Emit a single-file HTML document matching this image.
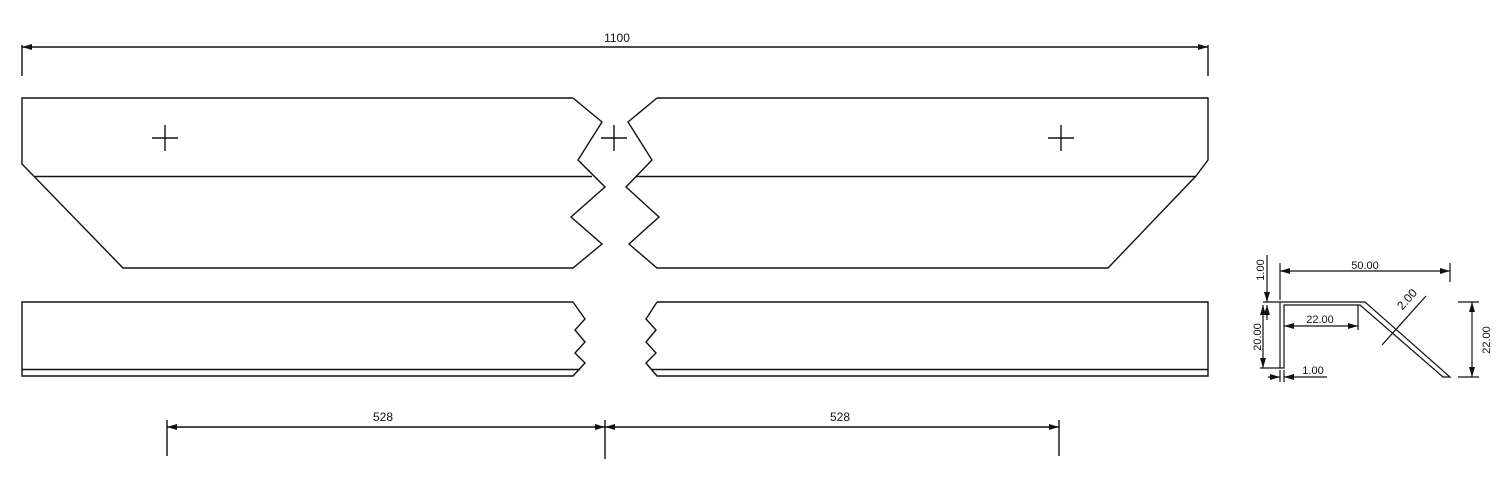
<!DOCTYPE html>
<html><head><meta charset="utf-8"><style>
html,body{margin:0;padding:0;background:#fff;}
svg{display:block;}
text{font-family:"Liberation Sans",Arial,sans-serif;fill:#111;}
</style></head><body>
<svg width="1501" height="504" viewBox="0 0 1501 504" xmlns="http://www.w3.org/2000/svg">
<defs>
<marker id="a" viewBox="0 0 10 6" refX="10" refY="3" markerWidth="10" markerHeight="6" orient="auto-start-reverse" markerUnits="userSpaceOnUse"><path d="M0,0 L10,3 L0,6 z" fill="#111"/></marker>
</defs>
<g fill="none" stroke="#111" stroke-width="1.4">
<line x1="22" y1="45" x2="22" y2="76"/>
<line x1="1208" y1="45" x2="1208" y2="76"/>
<line x1="22" y1="47" x2="1208" y2="47" marker-start="url(#a)" marker-end="url(#a)"/>
<polyline points="573,98 22,98 22,164 123,268 573,268 602,244 571,217 605,187 578,160 602,122 573,98"/>
<line x1="35" y1="176.5" x2="592" y2="176.5"/>
<polyline points="657,98 1208,98 1208,160 1196,176 1108,268 657,268 629,244 659,217 626,187 652,160 628,122 657,98"/>
<line x1="636" y1="176.5" x2="1196" y2="176.5"/>
<path d="M152,138 H178 M165,125 V151 M601,138 H627 M614,125 V151 M1048,138 H1074 M1061,125 V151"/>
<polyline points="573,302 22,302 22,376 573,376 585,363 575,353 585,342 575,330 585,319 573,302"/>
<line x1="22" y1="369.5" x2="580" y2="369.5"/>
<polyline points="657,302 1208,302 1208,376 657,376 646,363 656,353 646,342 656,330 646,319 657,302"/>
<line x1="651" y1="369.5" x2="1208" y2="369.5"/>
<line x1="167" y1="420" x2="167" y2="456"/>
<line x1="605" y1="420" x2="605" y2="459"/>
<line x1="1059" y1="420" x2="1059" y2="456"/>
<line x1="167" y1="427" x2="605" y2="427" marker-start="url(#a)" marker-end="url(#a)"/>
<line x1="605" y1="427" x2="1059" y2="427" marker-start="url(#a)" marker-end="url(#a)"/>
<g stroke-width="1.2">
<polyline points="1263,302 1365,302 1450,377 1443,377 1360,305 1284,305 1284,368 1280,368 1280,302"/>
<line x1="1280" y1="263" x2="1280" y2="300"/>
<line x1="1450" y1="263" x2="1450" y2="282"/>
<line x1="1280" y1="271" x2="1450" y2="271" marker-start="url(#a)" marker-end="url(#a)"/>
<line x1="1358" y1="305" x2="1358" y2="330"/>
<line x1="1284" y1="326" x2="1358" y2="326" marker-start="url(#a)" marker-end="url(#a)"/>
<line x1="1458" y1="302" x2="1479" y2="302"/>
<line x1="1458" y1="377" x2="1479" y2="377"/>
<line x1="1472" y1="302" x2="1472" y2="377" marker-start="url(#a)" marker-end="url(#a)"/>
<line x1="1260" y1="368" x2="1280" y2="368"/>
<line x1="1263" y1="305" x2="1263" y2="368" marker-start="url(#a)" marker-end="url(#a)"/>
<line x1="1267" y1="255" x2="1267" y2="302" marker-end="url(#a)"/>
<line x1="1267" y1="305" x2="1267" y2="320" marker-start="url(#a)"/>
<line x1="1280" y1="370" x2="1280" y2="382"/>
<line x1="1284" y1="370" x2="1284" y2="382"/>
<line x1="1268" y1="377" x2="1280" y2="377" marker-end="url(#a)"/>
<line x1="1284" y1="377" x2="1327" y2="377" marker-start="url(#a)"/>
<line x1="1382" y1="345" x2="1426" y2="296"/>
</g>
</g>
<g font-size="12">
<text x="617" y="42" text-anchor="middle">1100</text>
<text x="383" y="421" text-anchor="middle">528</text>
<text x="840" y="421" text-anchor="middle">528</text>
<text x="1365" y="269" text-anchor="middle" font-size="11">50.00</text>
<text x="1320" y="323" text-anchor="middle" font-size="11">22.00</text>
<text x="1313" y="374" text-anchor="middle" font-size="11">1.00</text>
<text transform="translate(1490,340) rotate(-90)" text-anchor="middle" font-size="11">22.00</text>
<text transform="translate(1261,337) rotate(-90)" text-anchor="middle" font-size="11">20.00</text>
<text transform="translate(1264,270) rotate(-90)" text-anchor="middle" font-size="11">1.00</text>
<text transform="translate(1410,302) rotate(-48)" text-anchor="middle" font-size="12">2.00</text>
</g>
</svg>
</body></html>
